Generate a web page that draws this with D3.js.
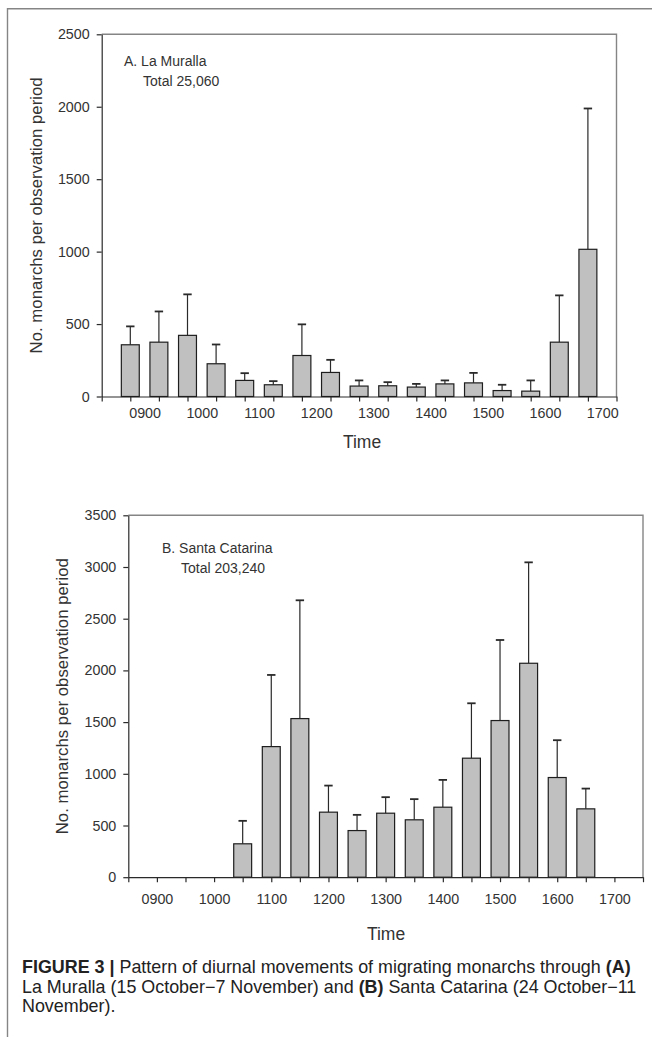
<!DOCTYPE html>
<html>
<head>
<meta charset="utf-8">
<script src="https://cdn.jsdelivr.net/npm/d3@7"></script>
<style>
  body { margin: 0; background: #fff; }
  svg { display: block; font-family: "Liberation Sans", Arial, sans-serif; }
  .bar { fill: #c0c0c0; stroke: #1e1e1e; stroke-width: 1.2; }
  .err { stroke: #2a2a2a; stroke-width: 1.2; }
  .frame { stroke: #858585; stroke-width: 1.4; fill: none; }
  .label { fill: #333; }
</style>
</head>
<body>
<svg id="chart" width="652" height="1037"></svg>
<script>
// A. La Muralla: half-hour periods, mean and upper error
const muTimes = ["0845", "0915", "0945", "1015", "1045", "1115", "1145", "1215", "1245",
  "1315", "1345", "1415", "1445", "1515", "1545", "1615", "1645"];
const muMeans = [357, 375, 422, 226, 111, 81, 283, 166, 72, 74, 65, 87, 94, 41, 37, 375, 1016];
const muErrors = [127, 212, 283, 133, 50, 25, 215, 87, 39, 25, 22, 24, 69, 40, 74, 323, 972];

// B. Santa Catarina
const scTimes = ["1030", "1100", "1130", "1200", "1230", "1300", "1330", "1400", "1430",
  "1500", "1530", "1600", "1630"];
const scMeans = [323, 1263, 1534, 629, 451, 619, 555, 677, 1151, 1515, 2069, 964, 661];
const scErrors = [222, 693, 1144, 257, 152, 155, 200, 264, 531, 779, 976, 361, 196];

const hourLabels = ["0900", "1000", "1100", "1200", "1300", "1400", "1500", "1600", "1700"];
const muYTicks = [0, 500, 1000, 1500, 2000, 2500];
const scYTicks = [0, 500, 1000, 1500, 2000, 2500, 3000, 3500];

const toMin = s => +s.slice(0, 2) * 60 + +s.slice(2);

const svg = d3.select("#chart");

// outer figure border (left and top)
svg.append("path").attr("class", "frame")
  .attr("d", "M7.5,1037V8.7H652");

function styleAxis(a) {
  a.attr("font-size", null).attr("font-family", null);
  a.selectAll("path, line").attr("stroke", "#2a2a2a").attr("stroke-width", 1.2);
  a.selectAll("text")
    .style("font-size", "14.3px")
    .style("font-family", "'Liberation Sans', Arial, sans-serif")
    .attr("fill", "#333");
}

function panel(opts) {
  const { times, means, errors, yMax, yTicks, domain, left, right, top, bottom,
    title, total, titleX, totalX, titleY, labelDy, ylabX, timeY, timeX } = opts;

  const x = d3.scaleLinear().domain(domain.map(toMin)).range([left, right]);
  const y = d3.scaleLinear().domain([0, yMax]).range([bottom, top]);
  const data = times.map((t, i) => ({ t: toMin(t), mean: means[i], err: errors[i] }));
  const half = 9.4;

  const g = svg.append("g");

  // top and right frame
  g.append("path").attr("class", "frame")
    .attr("d", `M${left},${top}H${right}V${bottom}`);

  const tickMins = d3.range(toMin(domain[0]), toMin(domain[1]) + 1, 30);
  g.append("g")
    .attr("transform", `translate(0,${bottom})`)
    .call(d3.axisBottom(x).tickValues(tickMins).tickFormat("").tickSize(5).tickSizeOuter(0))
    .call(styleAxis);

  const hourMins = hourLabels.map(toMin);
  g.append("g")
    .attr("transform", `translate(0,${bottom})`)
    .call(d3.axisBottom(x).tickValues(hourMins).tickSize(0).tickPadding(labelDy)
      .tickFormat(d => hourLabels[hourMins.indexOf(d)]))
    .call(a => a.select(".domain").remove())
    .call(styleAxis);

  g.append("g")
    .attr("transform", `translate(${left},0)`)
    .call(d3.axisLeft(y).tickValues(yTicks).tickFormat(d3.format("d"))
      .tickSize(5).tickPadding(7).tickSizeOuter(0))
    .call(styleAxis);

  g.selectAll("line.err")
    .data(data)
    .join("line")
    .attr("class", "err")
    .attr("x1", d => x(d.t)).attr("x2", d => x(d.t))
    .attr("y1", d => y(d.mean)).attr("y2", d => y(d.mean + d.err));

  g.selectAll("line.cap")
    .data(data)
    .join("line")
    .attr("class", "err cap")
    .attr("x1", d => x(d.t) - 4.2).attr("x2", d => x(d.t) + 4.2)
    .attr("y1", d => y(d.mean + d.err)).attr("y2", d => y(d.mean + d.err))
    .style("stroke-width", 1.8);

  g.selectAll("rect.bar")
    .data(data)
    .join("rect")
    .attr("class", "bar")
    .attr("x", d => x(d.t - half))
    .attr("width", d => x(d.t + half) - x(d.t - half))
    .attr("y", d => y(d.mean))
    .attr("height", d => y(0) - y(d.mean));

  g.append("text").attr("class", "label")
    .attr("x", titleX).attr("y", titleY)
    .attr("font-size", 14).text(title);
  g.append("text").attr("class", "label")
    .attr("x", totalX).attr("y", titleY + 19.5)
    .attr("font-size", 14).text(total);

  g.append("text").attr("class", "label")
    .attr("transform", `translate(${ylabX},${(top + bottom) / 2}) rotate(-90)`)
    .attr("text-anchor", "middle")
    .attr("font-size", 16.8)
    .text("No. monarchs per observation period");

  g.append("text").attr("class", "label")
    .attr("x", timeX).attr("y", timeY)
    .attr("text-anchor", "middle")
    .attr("font-size", 17.5)
    .text("Time");
}

panel({
  times: muTimes, means: muMeans, errors: muErrors,
  yMax: 2500, yTicks: muYTicks, domain: ["0815", "1715"],
  left: 101.7, right: 616.5, top: 34.3, bottom: 396.5,
  title: "A. La Muralla", total: "Total 25,060",
  titleX: 124, totalX: 143, titleY: 66, labelDy: 11, ylabX: 41.5, timeY: 448, timeX: 362
});

panel({
  times: scTimes, means: scMeans, errors: scErrors,
  yMax: 3500, yTicks: scYTicks, domain: ["0830", "1730"],
  left: 128.3, right: 643, top: 515.3, bottom: 877.2,
  title: "B. Santa Catarina", total: "Total 203,240",
  titleX: 162, totalX: 181, titleY: 553, labelDy: 17, ylabX: 68, timeY: 940, timeX: 386
});

// caption
const caption = svg.append("g").attr("font-size", 17.9).attr("fill", "#222");
const line1 = caption.append("text").attr("x", 22).attr("y", 973);
line1.append("tspan").attr("font-weight", "bold").text("FIGURE 3 | ");
line1.append("tspan").text("Pattern of diurnal movements of migrating monarchs through ");
line1.append("tspan").attr("font-weight", "bold").text("(A)");

const line2 = caption.append("text").attr("x", 22).attr("y", 992.5);
line2.append("tspan").text("La Muralla (15 October\u22127 November) and ");
line2.append("tspan").attr("font-weight", "bold").text("(B)");
line2.append("tspan").text(" Santa Catarina (24 October\u221211");

caption.append("text").attr("x", 22).attr("y", 1011.5).text("November).");
</script>
</body>
</html>
